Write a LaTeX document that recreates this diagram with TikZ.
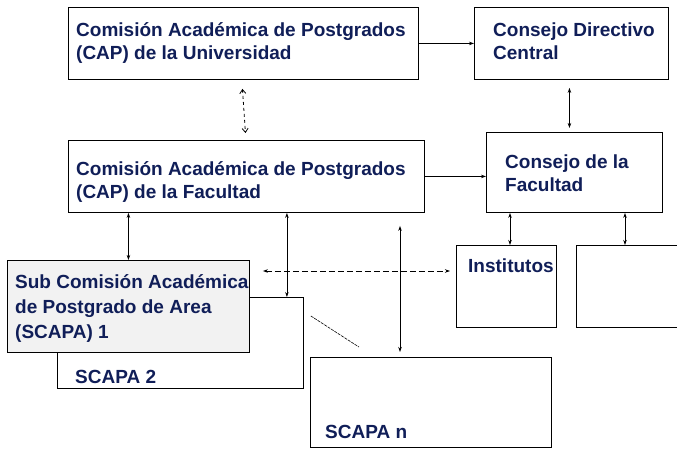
\documentclass[tikz,border=0pt]{standalone}
\usepackage{fontspec}
\setmainfont{Liberation Sans}
\usetikzlibrary{arrows.meta}
\definecolor{navy}{RGB}{16,30,88}
\definecolor{lgray}{RGB}{242,242,242}
\tikzset{
  box/.style={draw=black, line width=0.9pt, rectangle, anchor=north west, inner sep=0pt},
  txt/.style={anchor=base west, inner sep=0pt, text=navy, font=\bfseries\fontsize{19}{23}\selectfont},
  darr/.style={line width=0.8pt, {Stealth[length=5pt,width=3.5pt]}-{Stealth[length=5pt,width=3.5pt]}},
  arr/.style={line width=0.8pt, -{Stealth[length=5pt,width=3.5pt]}},
  ddarr/.style={line width=0.8pt, dashed, {Straight Barb[length=4pt,width=6pt]}-{Straight Barb[length=4pt,width=6pt]}},
  hdarr/.style={line width=0.8pt, dash pattern=on 6pt off 3pt, {Stealth[length=5pt,width=3.5pt]}-{Stealth[length=5pt,width=3.5pt]}},
}
\begin{document}
\begin{tikzpicture}[x=1pt,y=-1pt]
\clip (0,0) rectangle (677,449);
\fill[white] (0,0) rectangle (677,449);
% top row
\node[box, minimum width=350pt, minimum height=72pt] (cu) at (68,7) {};
\node[txt] (cut1) at (76,37) {Comisión Académica de Postgrados};
\node[txt] (cut2) at (76,60) {(CAP) de la Universidad};
\node[box, minimum width=194pt, minimum height=72pt] (cdc) at (474,7) {};
\node[txt] (cdct1) at (493,37) {Consejo Directivo};
\node[txt] (cdct2) at (493,60) {Central};
% second row
\node[box, minimum width=356pt, minimum height=72pt] (cf) at (68,140) {};
\node[txt] (cft1) at (76,176) {Comisión Académica de Postgrados};
\node[txt] (cft2) at (76,199) {(CAP) de la Facultad};
\node[box, minimum width=176pt, minimum height=80pt] (cof) at (486,132) {};
\node[txt] (coft1) at (505,169) {Consejo de la};
\node[txt] (coft2) at (505,192) {Facultad};
% institutes
\node[box, minimum width=100pt, minimum height=82pt] (inst) at (456,245) {};
\node[txt] (instt) at (468,272) {Institutos};
\node[box, minimum width=120pt, minimum height=82pt] (blank) at (576,245) {};
% SCAPA boxes
\node[box, minimum width=246pt, minimum height=91pt] (s2) at (57,297) {};
\node[txt] (s2t) at (75,383) {SCAPA 2};
\node[box, fill=lgray, minimum width=242pt, minimum height=92pt] (s1) at (7,260) {};
\node[txt] (s1t1) at (15,288) {Sub Comisión Académica};
\node[txt] (s1t2) at (15,313) {de Postgrado de Area};
\node[txt] (s1t3) at (15,338) {(SCAPA) 1};
\node[box, minimum width=241pt, minimum height=90pt] (sn) at (310,357) {};
\node[txt] (snt) at (325,438) {SCAPA n};
% connectors
\draw[arr] (cu.east) -- (cdc.west);
\draw[arr] (cf.east) -- (cf.east -| cof.west);
\coordinate (d1) at ([xshift=-1pt,yshift=-9pt]cu.south);
\coordinate (d2) at ([xshift=-1pt,yshift=7pt]cf.north);
\draw[ddarr] (d1) -- (d2);
\coordinate (c1) at ([xshift=-2pt,yshift=-8pt]cdc.south);
\coordinate (c2) at (c1 |- cof.north);
\draw[darr] (c1) -- ([yshift=4pt]c2);
\draw[darr] (s1.north) -- (s1.north |- cf.south);
\coordinate (a2) at ([xshift=-17pt]s2.north east);
\draw[darr] (a2) -- (a2 |- cf.south);
\coordinate (an) at ([xshift=90pt,yshift=5pt]sn.north west);
\coordinate (an2) at (an |- cf.south);
\draw[darr] (an) -- ([yshift=-13pt]an2);
\coordinate (ai) at ([xshift=54pt]inst.north west);
\draw[darr] (ai) -- (ai |- cof.south);
\coordinate (ab) at ([xshift=49pt]blank.north west);
\draw[darr] (ab) -- (ab |- cof.south);
\coordinate (h1) at ([xshift=13pt,yshift=-11pt]s1.north east);
\coordinate (h2) at ([xshift=-6pt]h1 -| inst.west);
\draw[hdarr] (h1) -- (h2);
\coordinate (g1) at ([xshift=7pt,yshift=-19pt]s2.north east);
\coordinate (g2) at ([xshift=55pt,yshift=-50pt]s2.north east);
\draw[line width=0.6pt, dash pattern=on 3pt off 1pt] (g1) -- (g2);
\end{tikzpicture}
\end{document}
